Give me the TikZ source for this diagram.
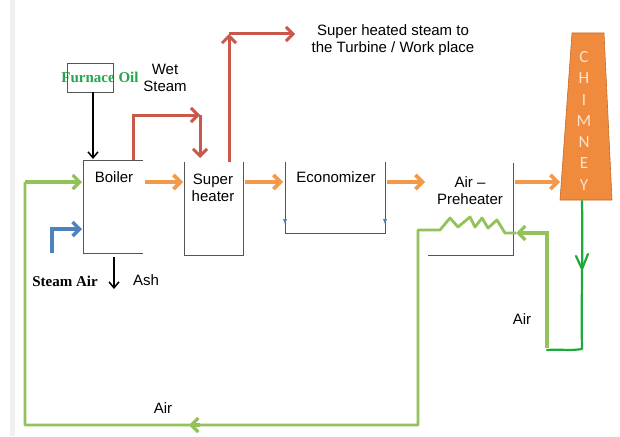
\documentclass[tikz,border=0pt]{standalone}
\usepackage{fontspec}
\setmainfont{Liberation Sans}
\newfontfamily\tnr{Liberation Serif}
\newfontfamily\chim{Carlito}
\usetikzlibrary{arrows.meta,calc}
\definecolor{orA}{HTML}{F39A4A}
\definecolor{redA}{HTML}{C9584A}
\definecolor{grA}{HTML}{93C25A}
\definecolor{grD}{HTML}{1EAA3A}
\definecolor{blA}{HTML}{4F81BD}
\definecolor{chimF}{HTML}{F08A3C}
\definecolor{chimB}{HTML}{C56A28}
\definecolor{chimT}{HTML}{FBE3CC}
\definecolor{boxL}{HTML}{555555}
\definecolor{furn}{HTML}{22A84A}
\tikzset{
  lbl/.style={font=\fontsize{15}{17}\selectfont, inner sep=0pt, align=center},
  serifb/.style={font=\tnr\bfseries\fontsize{15}{17}\selectfont, inner sep=0pt},
  boxline/.style={draw=boxL, line width=0.9pt},
  barb/.style={-{Straight Barb[length=7pt,width=14pt]}},
  oarrow/.style={orA, line width=3.6pt, barb},
  rarrow/.style={redA, line width=3pt, line join=miter},
  garrow/.style={grA, line width=3.2pt, line join=miter},
  karrow/.style={black, line width=1.5pt, -{Straight Barb[length=6pt,width=10pt]}},
  chl/.style={font=\chim\fontsize{17}{17}\selectfont, text=chimT, inner sep=0pt}
}
\begin{document}
\begin{tikzpicture}[x=1pt,y=-1pt]
\useasboundingbox[fill=white] (0,0) rectangle (620,436);
\fill[gray!12] (10,0) rectangle (15,436);

% ---------- named coordinates ----------
\coordinate (fuelB) at (93,92);
\coordinate (boilT) at (93,159);
\coordinate (boilOut) at (145,182);
\coordinate (shIn) at (183,182);
\coordinate (shOut) at (245,182);
\coordinate (ecIn) at (283,182);
\coordinate (ecOut) at (387,182);
\coordinate (apIn) at (425,182);
\coordinate (apOut) at (515,182);
\coordinate (chIn) at (560,182);

% ---------- boxes ----------
\node[serifb, text=furn] (fuel) at (100,77) {Furnace Oil};
\draw[boxline] (67,63) rectangle (113,92);

\node[lbl] (boiler) at (114,177) {Boiler};
\draw[boxline] (143,160) -- (83,160) -- (83,253) -- (143,253);

\node[lbl] (sh) at (213,188) {Super\\heater};
\draw[boxline] (184,162) -- (184,255) -- (243,255) -- (243,162);

\node[lbl] (eco) at (336,177) {Economizer};
\draw[boxline] (285,162) -- (285,233) -- (385,233) -- (385,162);
\fill[blA] (283,219) -- (287,219) -- (285,224) -- cycle;
\fill[blA] (383,219) -- (387,219) -- (385,224) -- cycle;

\node[lbl] (ap) at (470,191) {Air --\\Preheater};
\draw[boxline] (513,163) -- (513,255) -- (428,255);

% chimney
\draw[chimB, fill=chimF, line width=0.6pt] (572,33) -- (604,33) -- (612,200) -- (560,200) -- cycle;
\foreach \l [count=\i from 0] in {C,H,I,M,N,E,Y}
  \node[chl] (ch\i) at (584,{57+\i*21.3}) {\l};

% ---------- flue gas (orange) ----------
\draw[oarrow] (boilOut) -- (shIn);
\draw[oarrow] (shOut) -- (ecIn);
\draw[oarrow] (ecOut) -- (apIn);
\draw[oarrow] (apOut) -- (chIn);

% ---------- furnace oil ----------
\draw[karrow] (fuelB) -- (boilT);

% ---------- wet steam (red) ----------
\coordinate (ws0) at (133,160);
\coordinate (ws1) at (133,115);
\coordinate (ws2) at (200,115);
\coordinate (ws3) at (200,158);
\draw[rarrow, barb] (ws0) -- (ws1) -- (ws2);
\draw[rarrow, barb] (ws2) -- (ws3);
\node[lbl] (wet) at (165,78) {Wet\\Steam};

% ---------- superheated steam ----------
\coordinate (ss0) at (229,162);
\coordinate (ss1) at (229,34);
\coordinate (ss2) at (295,34);
\draw[rarrow, barb] (ss0) -- (ss1);
\draw[rarrow, barb] (ss1) -- (ss2);
\node[lbl, align=center] (turb) at (393,40) {Super heated steam to\\the Turbine / Work place};

% ---------- air (green) ----------
\coordinate (a0) at (547,348);
\coordinate (a1) at (547,233);
\coordinate (a2) at (516,233);
\draw[garrow, barb] (a0) -- (a1) -- (a2);
\draw[grA, line width=2.8pt, line join=round]
  (a2) -- (505,233) -- (497,220) -- (488,228) -- (482,218) -- (475,227)
  -- (470,217) -- (458,227) -- (450,218) -- (440,230) -- (418,230)
  -- (418,425) -- (25,425) -- (25,182);
\coordinate (bl0) at (25,182);
\coordinate (bl1) at (82,182);
\draw[garrow, barb] (bl0) -- (bl1);
\coordinate (am0) at (200,425);
\coordinate (am1) at (189,425);
\draw[garrow, barb] (am0) -- (am1);

% hand-drawn green from chimney
\coordinate (hd0) at (582,201);
\coordinate (hd1) at (547,350);
\draw[grD, line width=2.2pt, line join=round, line cap=round]
  (hd0) .. controls (583,260) and (581,300) .. (582,349)
  .. controls (570,351) and (560,349) .. (hd1);
\draw[grD, line width=2.2pt, line cap=round] (576,256) -- (582,269) -- (588,254);

% ---------- steam air (blue) ----------
\coordinate (b0) at (52,253);
\coordinate (b1) at (52,229);
\coordinate (b2) at (82,229);
\draw[blA, line width=3.4pt, line join=miter, barb] (b0) -- (b1) -- (b2);
\node[serifb] (sair) at (65,281) {Steam Air};

% ---------- ash ----------
\coordinate (ash0) at (114,257);
\coordinate (ash1) at (114,289);
\draw[karrow] (ash0) -- (ash1);
\node[lbl] (ash) at (146,280) {Ash};

% ---------- air labels ----------
\node[lbl] (airB) at (163,408) {Air};
\node[lbl] (airR) at (522,319) {Air};
\end{tikzpicture}
\end{document}
